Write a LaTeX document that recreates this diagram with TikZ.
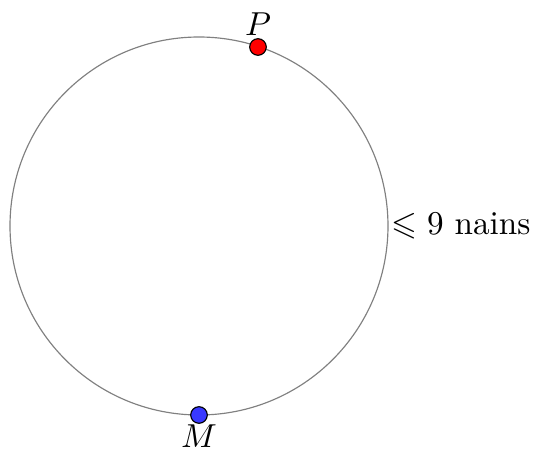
\documentclass[tikz,border=0pt]{standalone}
\usepackage{amssymb}
\begin{document}
\begin{tikzpicture}[x=0.3012pt,y=-0.3012pt,
  ring/.style={draw=gray,line width=0.35pt},
  dot/.style={circle,draw=black,line width=0.35pt,minimum size=5pt,inner sep=0pt}]
\useasboundingbox (0,0) rectangle (534,450);
\coordinate (O) at (199,226);
\draw[ring] (O) circle[radius=189];
\node[dot,fill=red] (P) at (258,47) {};
\node[dot,fill=blue!78!white] (M) at (199,415) {};
\node[anchor=south,inner sep=1pt] (Pl) at ([yshift=-0.5pt]P.north) {$P$};
\node[anchor=north,inner sep=1pt] (Ml) at ([yshift=0.8pt]M.south) {$M$};
\coordinate (R) at (388,226);
\node[anchor=west,inner sep=1pt] (lab) at (R) {$\leqslant 9$ nains};
\end{tikzpicture}
\end{document}
